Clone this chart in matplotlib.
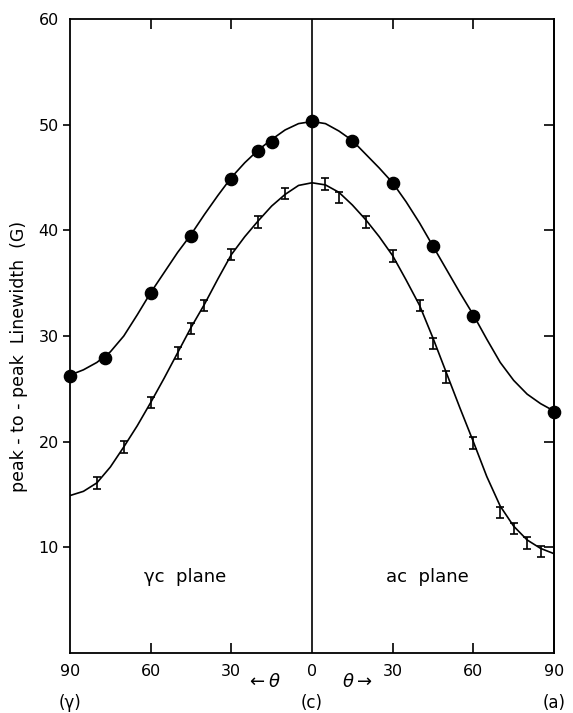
import matplotlib
matplotlib.use("Agg")
import matplotlib.pyplot as plt
import matplotlib.transforms as mtransforms

# ---- data (angle in degrees; negative = gamma-c plane side, positive = ac plane) ----
circle_theta = [-90, -77, -60, -45, -30, -20, -15, 0, 15, 30, 45, 60, 90]
circle_width = [26.2, 27.9, 34.1, 39.5, 44.9, 47.5, 48.4, 50.3, 48.5, 44.5, 38.5, 31.9, 22.8]

bar_theta = [-80, -70, -60, -50, -45, -40, -30, -20, -10,
             5, 10, 20, 30, 40, 45, 50, 60, 70, 75, 80, 85]
bar_width = [16.1, 19.5, 23.7, 28.4, 30.7, 32.9, 37.7, 40.8, 43.5,
             44.4, 43.1, 40.8, 37.6, 32.9, 29.3, 26.1, 19.9, 13.3, 11.8, 10.4, 9.6]
bar_err = 0.55

curve_theta = [-90, -85, -80, -75, -70, -65, -60, -55, -50, -45, -40, -35, -30, -25,
               -20, -15, -10, -5, 0, 5, 10, 15, 20, 25, 30, 35, 40, 45, 50, 55, 60,
               65, 70, 75, 80, 85, 90]
upper_curve = [26.3, 26.8, 27.5, 28.5, 30.0, 32.0, 34.1, 36.0, 37.9, 39.6, 41.5, 43.3,
               45.0, 46.4, 47.6, 48.6, 49.5, 50.1, 50.3, 50.1, 49.4, 48.5, 47.2, 45.9,
               44.5, 42.7, 40.7, 38.5, 36.3, 34.1, 32.0, 29.7, 27.5, 25.8, 24.5, 23.6, 22.9]
lower_curve = [14.9, 15.3, 16.1, 17.6, 19.5, 21.5, 23.7, 26.0, 28.4, 30.8, 33.0, 35.4,
               37.7, 39.4, 40.9, 42.3, 43.4, 44.25, 44.5, 44.3, 43.6, 42.4, 41.0, 39.4,
               37.6, 35.3, 32.9, 29.8, 26.5, 23.2, 20.0, 16.7, 13.9, 12.0, 10.7, 9.9, 9.4]

xticks = [-90, -60, -30, 0, 30, 60, 90]
xticklabels = ["90", "60", "30", "0", "30", "60", "90"]
yticks = [10, 20, 30, 40, 50, 60]
yticklabels = ["10", "20", "30", "40", "50", "60"]

# ---- figure ----
plt.rcParams['font.family'] = ['DejaVu Sans']
fig = plt.figure(figsize=(5.73, 7.13), dpi=100)
ax = fig.add_axes([70/573, 60/713, 484/573, 634/713])

lw = 1.2
ax.plot(curve_theta, upper_curve, color='black', lw=lw, solid_joinstyle='round')
ax.plot(curve_theta, lower_curve, color='black', lw=lw, solid_joinstyle='round')
ax.plot(circle_theta, circle_width, 'o', color='black', ms=8.8, clip_on=False, zorder=5)
ax.errorbar(bar_theta, bar_width, yerr=bar_err, fmt='none', ecolor='black',
            elinewidth=1.2, capsize=2.8, capthick=1.2, zorder=4)
ax.axvline(0, color='black', lw=lw)

ax.set_xlim(-90, 90)
ax.set_ylim(0, 60)

for s in ax.spines.values():
    s.set_linewidth(1.3)

# x ticks: labels at bottom, inward ticks on both top and bottom
ax.set_xticks(xticks)
ax.set_xticklabels(xticklabels, fontsize=11.5)
ax.tick_params(axis='x', which='major', direction='in', length=7, width=1.2,
               top=True, bottom=True, pad=8)
for i, t in enumerate(ax.xaxis.get_major_ticks()):
    if xticks[i] in (-90, 0, 90):
        t.tick1line.set_visible(False)
        t.tick2line.set_visible(False)

# y ticks: outward on left with labels, inward on right
ax.set_yticks(yticks)
ax.set_yticklabels(yticklabels, fontsize=11.5)
ax.tick_params(axis='y', which='major', direction='out', length=5, width=1.2,
               left=True, right=False, pad=3)
for i, t in enumerate(ax.yaxis.get_major_ticks()):
    if yticks[i] == 60:
        t.tick1line.set_visible(False)
ax2 = ax.secondary_yaxis('right')
ax2.set_yticks([10, 20, 30, 40, 50])
ax2.set_yticklabels([])
ax2.tick_params(direction='in', length=7.5, width=1.2)
ax2.spines['right'].set_linewidth(1.3)

ax.set_ylabel("peak - to - peak  Linewidth  (G)", fontsize=12.5)
ax.yaxis.set_label_coords(-0.087, 0.468)

trans = mtransforms.blended_transform_factory(ax.transData, ax.transAxes)
ax.text(-90, -0.079, "(γ)", transform=trans, ha='center', va='center', fontsize=12)
ax.text(0, -0.079, "(c)", transform=trans, ha='center', va='center', fontsize=12)
ax.text(90, -0.079, "(a)", transform=trans, ha='center', va='center', fontsize=12)
ax.text(-18, -0.046, r"$\leftarrow\theta$", transform=trans, ha='center', va='center',
        fontsize=13)
ax.text(17, -0.046, r"$\theta\rightarrow$", transform=trans, ha='center', va='center',
        fontsize=13)

ax.text(-47, 7.2, "γc  plane", ha='center', va='center', fontsize=13)
ax.text(43, 7.2, "ac  plane", ha='center', va='center', fontsize=13)

fig.savefig("out.png", dpi=100)
